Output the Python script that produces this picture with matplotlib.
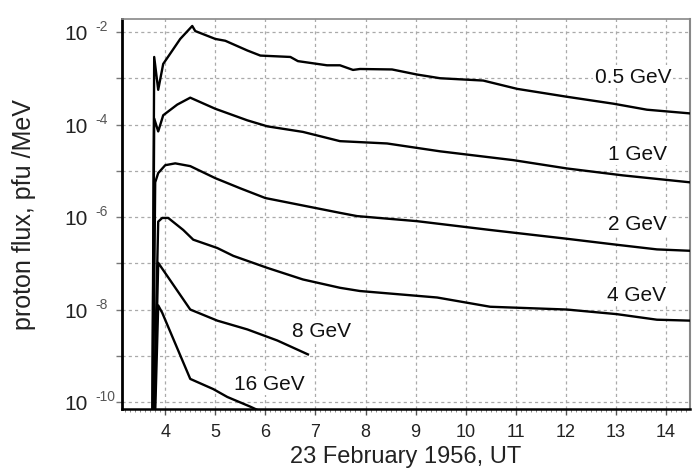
import numpy as np
import matplotlib
matplotlib.use("Agg")
import matplotlib.pyplot as plt
from matplotlib.ticker import FixedLocator, MultipleLocator, NullFormatter

plt.rcParams['font.family'] = ['Liberation Sans', 'DejaVu Sans']

# ---- data (hours UT, log10 flux) ----
x_05 = [3.74, 3.78, 3.86, 3.96, 4.30, 4.54, 4.60, 5.00, 5.20, 5.64, 5.90, 6.50, 6.65, 7.23, 7.49,
        7.75, 7.89, 8.53, 9.03, 9.49, 10.35, 11.03, 12.02, 12.95, 13.62, 14.48]
y_05 = [-11.0, -2.54, -3.25, -2.69, -2.15, -1.87, -1.98, -2.15, -2.19, -2.40, -2.51, -2.54, -2.63, -2.72, -2.72,
        -2.82, -2.80, -2.81, -2.92, -3.00, -3.05, -3.23, -3.40, -3.55, -3.68, -3.76]

x_1 = [3.74, 3.78, 3.86, 3.96, 4.24, 4.50, 5.00, 5.64, 6.04, 6.75, 7.49, 8.43, 9.49, 10.95, 12.02, 13.14, 14.48]
y_1 = [-11.0, -3.87, -4.15, -3.80, -3.57, -3.42, -3.66, -3.91, -4.04, -4.16, -4.36, -4.41, -4.58, -4.77, -4.95, -5.10, -5.25]

x_2 = [3.75, 3.80, 3.86, 4.00, 4.20, 4.50, 5.00, 5.50, 6.00, 7.49, 7.83, 9.03, 10.49, 12.02, 13.02, 13.82, 14.48]
y_2 = [-11.0, -5.25, -5.05, -4.88, -4.84, -4.90, -5.16, -5.38, -5.59, -5.91, -5.98, -6.09, -6.28, -6.47, -6.60, -6.70, -6.73]

x_4 = [3.76, 3.86, 3.94, 4.06, 4.36, 4.56, 5.04, 5.36, 6.04, 6.75, 7.49, 7.89, 9.43, 10.49, 12.02, 13.02, 13.82, 14.48]
y_4 = [-11.0, -6.10, -6.02, -6.02, -6.28, -6.49, -6.67, -6.84, -7.10, -7.35, -7.53, -7.60, -7.74, -7.94, -8.00, -8.10, -8.22, -8.24]

x_8 = [3.77, 3.86, 4.50, 5.04, 5.64, 6.24, 6.85]
y_8 = [-11.0, -6.99, -8.00, -8.24, -8.43, -8.67, -8.97]

x_16 = [3.78, 3.86, 3.94, 4.50, 4.96, 5.24, 5.70, 5.90]
y_16 = [-11.0, -7.91, -8.07, -9.50, -9.72, -9.89, -10.10, -10.20]

series = [(x_05, y_05), (x_1, y_1), (x_2, y_2), (x_4, y_4), (x_8, y_8), (x_16, y_16)]
labels = ["0.5 GeV", "1 GeV", "2 GeV", "4 GeV", "8 GeV", "16 GeV"]
label_x = [13.34, 13.44, 13.44, 13.42, 7.13, 6.08]
label_logy = [-2.97, -4.62, -6.13, -7.68, -8.45, -9.59]

x_ticks = list(range(4, 15))
y_decades = list(range(-10, -1))
y_labeled = [-10, -8, -6, -4, -2]

fig = plt.figure(figsize=(6.98, 4.77), dpi=100)
ax = fig.add_axes([0.175, 0.1405, 0.8135, 0.8175])
ax.set_yscale('log')
ax.set_xlim(3.14, 14.48)
ax.set_ylim(10 ** -10.15, 10 ** -1.72)

for xs, ys in series:
    ax.plot(xs, 10.0 ** np.array(ys), color='black', lw=1.7, solid_joinstyle='round', zorder=3)

for t, lx, ly in zip(labels, label_x, label_logy):
    ax.text(lx, 10 ** ly, t, ha='center', va='center', fontsize=15, color='#111111', zorder=4,
            bbox=dict(facecolor='white', edgecolor='none', pad=1.5))

ax.xaxis.set_major_locator(FixedLocator(x_ticks))
ax.xaxis.set_minor_locator(MultipleLocator(0.1))
ax.set_xticklabels([str(v) for v in x_ticks], fontsize=13, color='#222222')
ax.yaxis.set_major_locator(FixedLocator([10.0 ** d for d in y_decades]))
ax.yaxis.set_minor_locator(FixedLocator([]))
ax.yaxis.set_major_formatter(NullFormatter())

# y tick labels: "10" with a small superscript exponent
for d in y_labeled:
    ax.annotate('10', xy=(0, 10.0 ** d), xycoords=('axes fraction', 'data'),
                xytext=(-34, -1.5), textcoords='offset pixels', ha='right', va='center',
                fontsize=15, color='#222222', annotation_clip=False)
    ax.annotate('%d' % d, xy=(0, 10.0 ** d), xycoords=('axes fraction', 'data'),
                xytext=(-27, 6), textcoords='offset pixels', ha='left', va='center',
                fontsize=10, color='#555555', annotation_clip=False)

ax.grid(True, which='major', color='#aaaaaa', linestyle=(0, (2.5, 2.5)), linewidth=0.9)
ax.tick_params(axis='x', which='major', length=4, width=1, color='#555555', pad=6, direction='out')
ax.tick_params(axis='x', which='minor', length=2, width=0.6, color='#777777', direction='out')
ax.tick_params(axis='y', which='major', length=4, width=1, color='#777777', pad=4)

ax.spines['left'].set_linewidth(2.0)
ax.spines['left'].set_color('black')
ax.spines['bottom'].set_linewidth(1.8)
ax.spines['bottom'].set_color('black')
ax.spines['top'].set_color('#888888')
ax.spines['top'].set_linewidth(1.2)
ax.spines['right'].set_color('#888888')
ax.spines['right'].set_linewidth(1.5)

ax.set_xlabel('23 February 1956, UT', fontsize=17, color='#222222', labelpad=4)
ax.yaxis.set_label_coords(-0.152, 0.52)
ax.set_ylabel('proton flux, pfu /MeV', fontsize=18, color='#222222')

fig.savefig('out.png', dpi=100)
